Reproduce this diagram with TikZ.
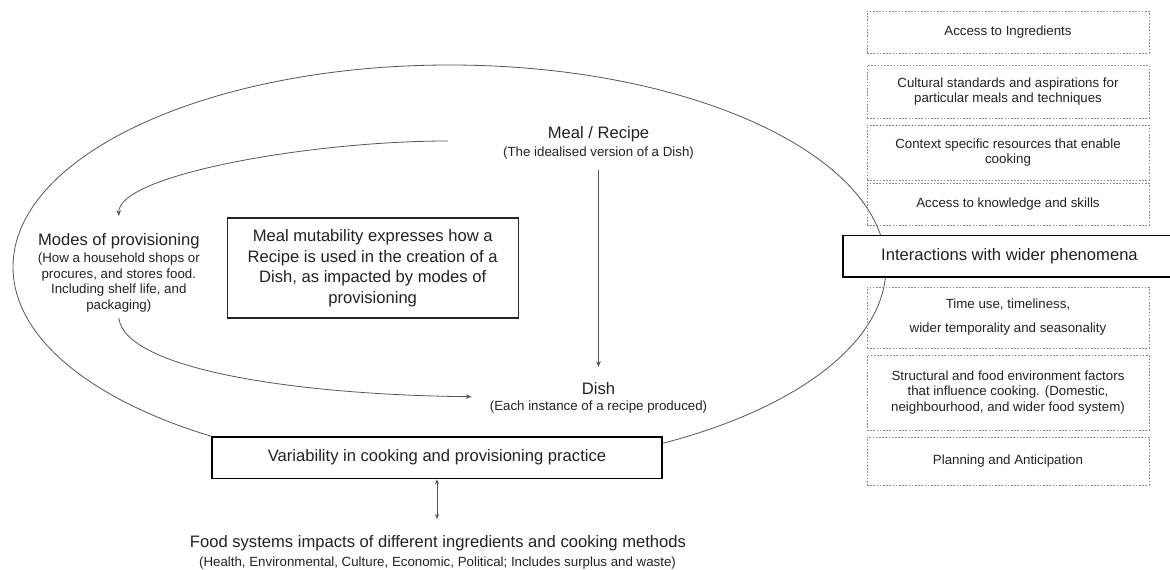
\documentclass[tikz,border=0pt]{standalone}
\usepackage{fontspec}
\setmainfont{Liberation Sans}
\usetikzlibrary{calc,arrows.meta}
\definecolor{ln}{HTML}{555555}
\definecolor{tx}{HTML}{222222}
\definecolor{dl}{HTML}{8A8A8A}
\begin{document}
\begin{tikzpicture}[x=1pt,y=-1pt,
  big/.style={font=\fontsize{16.6}{20.5}\selectfont, text=tx, inner sep=0pt},
  sub/.style={font=\fontsize{13.3}{15.7}\selectfont, text=tx, inner sep=0pt, align=center},
  arr/.style={draw=ln, line width=0.8pt, -{Stealth[length=6pt,width=4.5pt]}},
  dblarr/.style={draw=ln, line width=0.8pt, {Stealth[length=5pt,width=4pt]}-{Stealth[length=5pt,width=4pt]}},
  solidbox/.style={draw=black, line width=1.8pt, fill=white, minimum height=41.5pt, inner sep=0pt, font=\fontsize{16.6}{20}\selectfont, text=tx},
  dbox/.style={draw=dl, line width=0.7pt, dash pattern=on 1.6pt off 1.6pt, minimum width=282pt, inner sep=0pt, align=center, font=\fontsize{13.3}{15.5}\selectfont, text=tx},
]
\useasboundingbox (0,0) rectangle (1170,570);

% outer ellipse
\draw[ln, line width=0.8pt] (449.5,267) ellipse [x radius=436.5pt, y radius=202pt];

% centre texts
\node[big] (mealT) at (598.5,134.3) {Meal / Recipe};
\node[sub] (mealS) at (598.5,152.7) {(The idealised version of a Dish)};
\node[big] (dishT) at (598.5,388.3) {Dish};
\node[sub] (dishS) at (598.5,406.7) {(Each instance of a recipe produced)};
\node[big] (modesT) at (118.8,241) {Modes of provisioning};
\node[sub] (modesS) at (118.8,282.5) {(How a household shops or\\procures, and stores food.\\Including shelf life, and\\packaging)};

\node[draw=black!85, line width=1.1pt, fill=white, minimum width=291pt, minimum height=100pt,
      inner sep=0pt, align=center, font=\fontsize{16.6}{20.5}\selectfont, text=tx] (mut) at (372.7,268)
  {Meal mutability expresses how a\\Recipe is used in the creation of a\\Dish, as impacted by modes of\\provisioning};

% solid boxes
\node[solidbox, minimum width=450pt] (var) at (437,457.7) {Variability in cooking and provisioning practice};
\node[solidbox, minimum width=333pt] (inter) at (1009.5,256.3) {Interactions with wider phenomena};

% food systems
\node[big] (foodT) at (438,543) {Food systems impacts of different ingredients and cooking methods};
\node[sub] (foodS) at (437.5,563) {(Health, Environmental, Culture, Economic, Political; Includes surplus and waste)};

% dashed boxes
\node[dbox, minimum height=42pt] (b1) at (1008,32) {Access to Ingredients};
\node[dbox, minimum height=53pt] (b2) at (1008,91.5) {Cultural standards and aspirations for\\particular meals and techniques};
\node[dbox, minimum height=55pt] (b3) at (1008,152.5) {Context specific resources that enable\\cooking};
\node[dbox, minimum height=42pt] (b4) at (1008,204) {Access to knowledge and skills};
\node[dbox, minimum height=61pt] (b5) at (1008,317.5) {Time use, timeliness,\\[8.5pt]wider temporality and seasonality};
\node[dbox, minimum height=75pt] (b6) at (1008,392.5) {Structural and food environment factors\\that influence cooking. (Domestic,\\neighbourhood, and wider food system)};
\node[dbox, minimum height=48pt] (b7) at (1008,461) {Planning and Anticipation};

% connectors
\draw[arr, shorten <=11pt, shorten >=15pt] (mealS) -- (dishT);
\draw[arr] ($(mealT.west)+(-99.7,6.7)$) .. controls (310,141) and (118,175) .. ($(modesT.north)+(0,-17)$);
\draw[arr] ($(modesS.south)+(0,5.5)$) .. controls (125,370) and (300,395) .. ($(dishS.west)+(-18,-10)$);
\draw[dblarr] (var.south) -- ($(var.south |- foodT.north)+(0,-16)$);
\end{tikzpicture}
\end{document}
